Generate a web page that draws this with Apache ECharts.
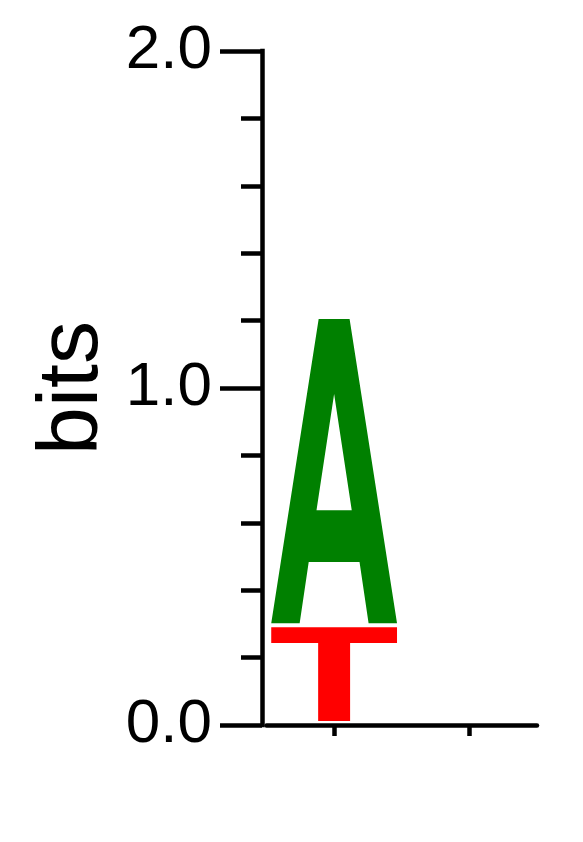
<!DOCTYPE html>
<html>
<head>
<meta charset="utf-8">
<script src="https://cdn.jsdelivr.net/npm/echarts@6/dist/echarts.min.js"></script>
<style>
  html, body { margin: 0; padding: 0; background: #fff; }
  #chart { width: 583px; height: 842px; }
</style>
</head>
<body>
<div id="chart"></div>
<script>
// ---- data ----
const positions = ['1', '2'];
const letterNames = ['A', 'T'];
const heightsA = [0.915, 0];
const heightsT = [0.29, 0];
const yTicks = [0, 1, 2];

// ---- styles ----
const letterColors = { A: '#008000', T: '#ff0000' };
const FONT = '"Liberation Sans", Arial, Helvetica, sans-serif';

// glyph outlines in a unit box (x: 0..1 left->right, y: 0..1 top->bottom)
const glyphs = {
  A: [[0,1],[0.377,0],[0.5,0],[0.5,0.247],[0.36,0.629],[0.64,0.629],[0.5,0.247],[0.5,0],
      [0.623,0],[1,1],[0.774,1],[0.702,0.799],[0.298,0.799],[0.226,1]],
  T: [[0,0],[1,0],[1,0.168],[0.627,0.168],[0.627,1],[0.373,1],[0.373,0.168],[0,0.168]]
};

// stack letters per position: smallest at bottom
const heightsByLetter = { A: heightsA, T: heightsT };
const seriesData = { A: [], T: [] };
positions.forEach((p, i) => {
  const items = letterNames.map(l => ({ l, h: heightsByLetter[l][i] }))
    .filter(d => d.h > 0)
    .sort((a, b) => a.h - b.h);
  let base = 0;
  items.forEach(d => {
    seriesData[d.l].push([i, base, base + d.h]);
    base += d.h;
  });
});

function makeRender(letter) {
  return function (params, api) {
    const x = api.value(0), b = api.value(1), t = api.value(2);
    const p0 = api.coord([x, b]);
    const p1 = api.coord([x, t]);
    const bw = api.size([1, 0])[0];
    const w = bw * 0.93;
    const left = p0[0] - w / 2;
    const bottom = p0[1] - 4;
    const top = p1[1];
    const h = bottom - top;
    const pts = glyphs[letter].map(q => [left + q[0] * w, top + q[1] * h]);
    return {
      type: 'polygon',
      shape: { points: pts },
      style: { fill: letterColors[letter], stroke: null }
    };
  };
}

const chart = echarts.init(document.getElementById('chart'), null, { renderer: 'canvas' });
chart.setOption({
  animation: false,
  backgroundColor: '#fff',
  grid: { left: 266.5, right: 46, top: 51, bottom: 117, containLabel: false, outerBoundsMode: 'none' },
  xAxis: {
    type: 'category',
    data: positions,
    boundaryGap: true,
    axisLine: { show: true, lineStyle: { color: '#000', width: 4.5 } },
    axisTick: { show: true, alignWithLabel: true, length: 11, lineStyle: { color: '#000', width: 4.5 } },
    axisLabel: { show: false },
    splitLine: { show: false }
  },
  yAxis: {
    type: 'value',
    min: yTicks[0],
    max: yTicks[yTicks.length - 1],
    interval: 1,
    offset: 4.5,
    name: 'bits',
    nameLocation: 'middle',
    nameRotate: 90,
    nameGap: 146,
    nameTextStyle: { fontSize: 86, color: '#000', fontFamily: FONT },
    axisLine: { show: true, lineStyle: { color: '#000', width: 4.5, cap: 'square' } },
    axisTick: { show: true, length: 42, lineStyle: { color: '#000', width: 4.5 } },
    minorTick: { show: true, splitNumber: 5, length: 21, lineStyle: { color: '#000', width: 4.5 } },
    splitLine: { show: false },
    minorSplitLine: { show: false },
    axisLabel: {
      fontSize: 62, color: '#000', fontFamily: FONT, margin: 50,
      formatter: v => Number(v).toFixed(1)
    }
  },
  series: letterNames.map(l => ({
    type: 'custom',
    name: l,
    renderItem: makeRender(l),
    encode: { x: 0, y: [1, 2] },
    data: seriesData[l],
    clip: false
  }))
});
</script>
</body>
</html>
